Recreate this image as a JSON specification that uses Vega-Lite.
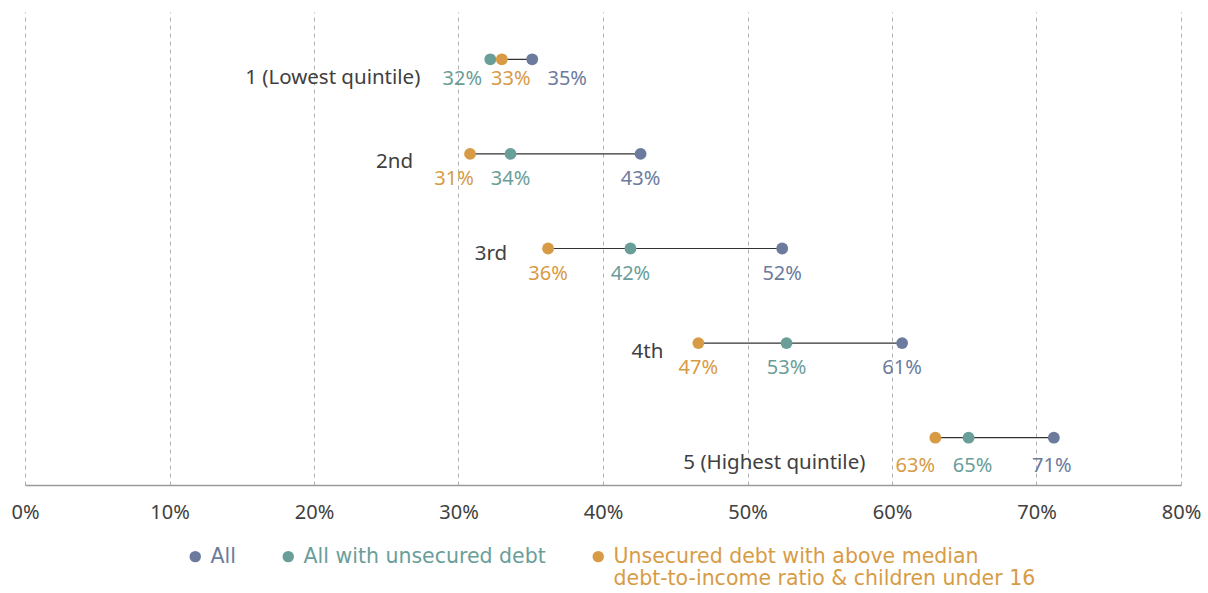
{
  "$schema": "https://vega.github.io/schema/vega-lite/v6.json",
  "width": 1156,
  "height": 473,
  "autosize": {"type": "none"},
  "padding": {"left": 25, "top": 12, "right": 27, "bottom": 108},
  "background": "white",
  "config": {"view": {"stroke": null}, "font": "Noto Sans"},
  "data": {
    "values": [
      {"quintile": "1 (Lowest quintile)", "series": "All", "value": 0.351},
      {"quintile": "1 (Lowest quintile)", "series": "All with unsecured debt", "value": 0.322},
      {"quintile": "1 (Lowest quintile)", "series": "Unsecured debt with above median debt-to-income ratio & children under 16", "value": 0.330},
      {"quintile": "2nd", "series": "All", "value": 0.426},
      {"quintile": "2nd", "series": "All with unsecured debt", "value": 0.336},
      {"quintile": "2nd", "series": "Unsecured debt with above median debt-to-income ratio & children under 16", "value": 0.308},
      {"quintile": "3rd", "series": "All", "value": 0.524},
      {"quintile": "3rd", "series": "All with unsecured debt", "value": 0.419},
      {"quintile": "3rd", "series": "Unsecured debt with above median debt-to-income ratio & children under 16", "value": 0.362},
      {"quintile": "4th", "series": "All", "value": 0.607},
      {"quintile": "4th", "series": "All with unsecured debt", "value": 0.527},
      {"quintile": "4th", "series": "Unsecured debt with above median debt-to-income ratio & children under 16", "value": 0.466},
      {"quintile": "5 (Highest quintile)", "series": "All", "value": 0.712},
      {"quintile": "5 (Highest quintile)", "series": "All with unsecured debt", "value": 0.653},
      {"quintile": "5 (Highest quintile)", "series": "Unsecured debt with above median debt-to-income ratio & children under 16", "value": 0.630}
    ]
  },
  "encoding": {
    "y": {
      "field": "quintile",
      "type": "ordinal",
      "scale": {"type": "point", "padding": 0.5, "domain": ["1 (Lowest quintile)", "2nd", "3rd", "4th", "5 (Highest quintile)"]},
      "axis": null
    },
    "x": {
      "field": "value",
      "type": "quantitative",
      "scale": {"domain": [0, 0.8], "nice": false, "zero": true},
      "axis": {
        "title": null,
        "format": ".0%",
        "values": [0, 0.1, 0.2, 0.3, 0.4, 0.5, 0.6, 0.7, 0.8],
        "grid": true,
        "gridDash": [4, 4],
        "gridColor": "#b0b0b0",
        "gridWidth": 1,
        "ticks": false,
        "domainColor": "#9a9a9a",
        "domainWidth": 1.5,
        "labelFontSize": 20,
        "labelColor": "#404040",
        "labelPadding": 17,
        "labelFlush": false,
        "labelBound": false,
        "labelOverlap": false,
        "labelFont": "Noto Sans"
      }
    }
  },
  "layer": [
    {
      "mark": {"type": "line", "color": "#333333", "strokeWidth": 1.2},
      "encoding": {"detail": {"field": "quintile"}}
    },
    {
      "mark": {"type": "circle", "size": 140, "opacity": 1},
      "encoding": {
        "color": {
          "field": "series",
          "type": "nominal",
          "scale": {
            "domain": ["All", "All with unsecured debt", "Unsecured debt with above median debt-to-income ratio & children under 16"],
            "range": ["#6c7b9d", "#6a9e99", "#d89b45"]
          },
          "legend": {
            "title": null,
            "orient": "none",
            "direction": "horizontal",
            "legendX": 160,
            "legendY": 534,
            "symbolType": "circle",
            "symbolSize": 130,
            "symbolStrokeWidth": 0,
            "labelFont": "DejaVu Sans",
            "labelFontSize": 20.5,
            "labelOffset": 5,
            "labelLimit": 600,
            "columnPadding": 42,
            "labelBaseline": "middle",
            "labelColor": {"expr": "scale('color', datum.value)"},
            "labelExpr": "datum.label == 'Unsecured debt with above median debt-to-income ratio & children under 16' ? ['Unsecured debt with above median', 'debt-to-income ratio & children under 16'] : [datum.label, ' ']"
          }
        }
      }
    },
    {
      "mark": {
        "type": "text",
        "fontSize": 20,
        "font": "Noto Sans",
        "baseline": "middle",
        "align": "center",
        "dx": {"expr": "datum.quintile == '1 (Lowest quintile)' ? (datum.series == 'All' ? 35 : datum.series == 'All with unsecured debt' ? -28 : 9) : datum.quintile == '5 (Highest quintile)' ? (datum.series == 'All' ? -2 : datum.series == 'All with unsecured debt' ? 4 : -20) : (datum.quintile == '2nd' && datum.series != 'All' && datum.series != 'All with unsecured debt') ? -16 : 0"},
        "dy": {"expr": "datum.quintile == '1 (Lowest quintile)' ? 20 : datum.quintile == '5 (Highest quintile)' ? 28 : 25"}
      },
      "encoding": {
        "text": {"field": "value", "type": "quantitative", "format": ".0%"},
        "color": {"field": "series", "type": "nominal", "legend": null}
      }
    },
    {
      "transform": [
        {"aggregate": [{"op": "min", "field": "value", "as": "minval"}], "groupby": ["quintile"]}
      ],
      "mark": {
        "type": "text",
        "fontSize": 20.5,
        "font": "Noto Sans",
        "color": "#404040",
        "baseline": "middle",
        "align": "right",
        "dx": {"expr": "datum.quintile == '1 (Lowest quintile)' ? -70 : datum.quintile == '2nd' ? -57 : datum.quintile == '3rd' ? -41 : datum.quintile == '4th' ? -35 : -70"},
        "dy": {"expr": "datum.quintile == '1 (Lowest quintile)' ? 19 : datum.quintile == '2nd' ? 8 : datum.quintile == '3rd' ? 5 : datum.quintile == '4th' ? 9 : 25"}
      },
      "encoding": {
        "x": {"field": "minval", "type": "quantitative"},
        "text": {"field": "quintile", "type": "nominal"}
      }
    }
  ]
}
